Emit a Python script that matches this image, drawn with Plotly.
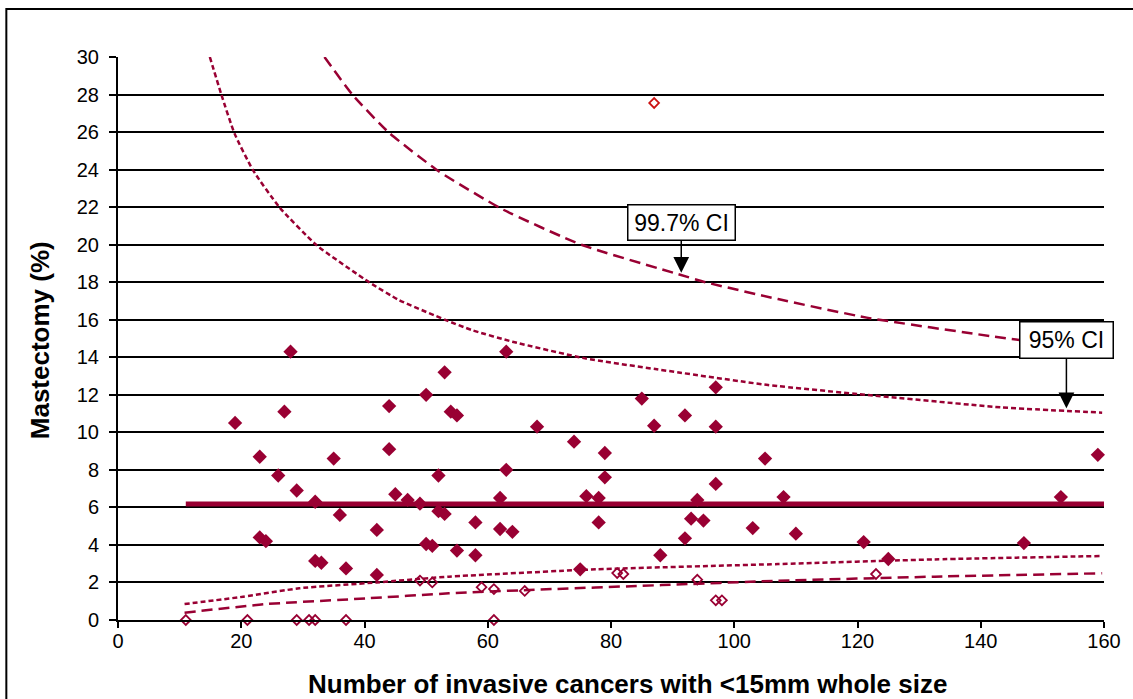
import plotly.graph_objects as go

# ---- data ----
filled_x = [19, 23, 23, 24, 26, 27, 28, 29, 32, 32, 33, 35, 36, 37, 42, 42, 44, 44, 45, 47,
            49, 50, 50, 51, 52, 52, 53, 53, 54, 55, 55, 58, 58, 62, 62, 63, 63, 64, 68, 74,
            75, 76, 78, 78, 79, 79, 85, 87, 88, 92, 92, 93, 94, 95, 97, 97, 97, 103, 105, 108,
            110, 121, 125, 147, 153, 159]
filled_y = [10.5, 8.7, 4.4, 4.2, 7.7, 11.1, 14.3, 6.9, 6.3, 3.15, 3.05, 8.6, 5.6, 2.75, 4.8, 2.4, 11.4, 9.1, 6.7, 6.4,
            6.2, 12.0, 4.05, 3.95, 7.7, 5.8, 5.65, 13.2, 11.1, 10.9, 3.7, 5.2, 3.45, 6.5, 4.85, 14.3, 8.0, 4.7, 10.3, 9.5,
            2.7, 6.6, 6.5, 5.2, 8.9, 7.6, 11.8, 10.35, 3.45, 10.9, 4.35, 5.4, 6.4, 5.3, 12.4, 10.3, 7.25, 4.9, 8.6, 6.55,
            4.6, 4.15, 3.25, 4.1, 6.55, 8.8]

open_x = [11, 21, 29, 31, 32, 37, 49, 51, 59, 61, 61, 66, 81, 82, 94, 97, 98, 123]
open_y = [0, 0, 0, 0, 0, 0, 2.1, 2.0, 1.75, 1.65, 0, 1.55, 2.5, 2.45, 2.15, 1.05, 1.05, 2.45]

outlier_x = [87]
outlier_y = [27.55]

mean_x = [11, 160]
mean_y = [6.18, 6.18]

u95_x = [14.9, 16.8, 18.9, 21.9, 26.2, 32.2, 40.8, 45.6, 53.2, 57.4, 64.0, 75.8, 87.2, 105.5, 121.7, 143.2, 159.7]
u95_y = [30.0, 27.97, 25.93, 23.97, 21.99, 19.98, 17.99, 17.05, 15.98, 15.45, 14.83, 13.94, 13.37, 12.52, 11.99, 11.33, 11.05]

u997_x = [33.5, 38.1, 44.0, 52.1, 62.3, 75.3, 90.9, 95.3, 107.1, 121.7, 142.2, 159.7]
u997_y = [30.0, 27.97, 25.96, 23.9, 21.9, 19.98, 18.43, 18.0, 17.1, 16.1, 15.1, 14.35]

l95_x = [10.8, 20.3, 29.4, 41.9, 53.7, 77.5, 107.1, 132.5, 159.7]
l95_y = [0.85, 1.24, 1.69, 2.0, 2.31, 2.70, 2.98, 3.23, 3.41]

l997_x = [10.8, 24.1, 40.2, 53.7, 66.7, 88.2, 107.1, 132.5, 159.7]
l997_y = [0.39, 0.85, 1.15, 1.42, 1.6, 1.86, 2.09, 2.31, 2.49]

x_ticks = [0, 20, 40, 60, 80, 100, 120, 140, 160]
y_ticks = list(range(0, 31, 2))

# ---- styling ----
RED = "#990033"
FONT = "Liberation Sans, Arial, sans-serif"

fig = go.Figure()

def curve(x, y, dash):
    fig.add_trace(go.Scatter(x=x, y=y, mode="lines",
                             line=dict(color=RED, width=2.5, dash=dash, shape="spline", smoothing=0.5),
                             hoverinfo="skip", showlegend=False))

curve(u95_x, u95_y, "5px,3px")
curve(l95_x, l95_y, "5px,3px")
curve(u997_x, u997_y, "11px,6px")
curve(l997_x, l997_y, "11px,6px")

fig.add_trace(go.Scatter(x=mean_x, y=mean_y, mode="lines",
                         line=dict(color=RED, width=5), showlegend=False))

fig.add_trace(go.Scatter(x=filled_x, y=filled_y, mode="markers", cliponaxis=False,
                         marker=dict(symbol="diamond", size=11, color=RED, line=dict(width=0)),
                         showlegend=False))
fig.add_trace(go.Scatter(x=open_x, y=open_y, mode="markers", cliponaxis=False,
                         marker=dict(symbol="diamond-open", size=7.5, color=RED, line=dict(width=1.8)),
                         showlegend=False))
fig.add_trace(go.Scatter(x=outlier_x, y=outlier_y, mode="markers", cliponaxis=False,
                         marker=dict(symbol="diamond-open", size=7.5, color="#CC1111", line=dict(width=1.8)),
                         showlegend=False))

L, R, T, B = 118, 26, 57, 79
W, H = 1133, 699
pw, ph = W - L - R, H - T - B

fig.update_layout(
    width=W, height=H,
    margin=dict(l=L, r=R, t=T, b=B),
    paper_bgcolor="white", plot_bgcolor="white",
    font=dict(family=FONT, size=20, color="black"),
    showlegend=False,
    xaxis=dict(range=[0, 160], tickvals=x_ticks, showgrid=False, zeroline=False,
               showline=True, linecolor="black", linewidth=2,
               ticks="outside", ticklen=6, tickwidth=2, tickcolor="black",
               tickfont=dict(size=20, family=FONT), ticklabelstandoff=-4),
    yaxis=dict(range=[0, 30], tickvals=y_ticks, showgrid=True, gridcolor="black", gridwidth=2,
               zeroline=False, showline=True, linecolor="black", linewidth=2,
               ticks="outside", ticklen=7, tickwidth=2, tickcolor="black",
               tickfont=dict(size=20, family=FONT), ticklabelstandoff=6),
)

# axis titles
fig.add_annotation(text="<b>Number of invasive cancers with &lt;15mm whole size</b>",
                   xref="paper", yref="paper", x=(629 - L) / pw, y=(H - B - 684) / ph,
                   showarrow=False, font=dict(size=26, family=FONT, color="black"),
                   xanchor="center", yanchor="middle")
fig.add_annotation(text="<b>Mastectomy (%)</b>",
                   xref="paper", yref="paper", x=(40 - L) / pw, y=(H - B - 340) / ph,
                   showarrow=False, textangle=-90, font=dict(size=26, family=FONT, color="black"),
                   xanchor="center", yanchor="middle")

# CI labels with arrows
fig.add_annotation(text="99.7% CI", x=91.4, y=18.5, xref="x", yref="y",
                   ax=0, ay=-50, showarrow=True, arrowhead=2, arrowsize=2.1, arrowwidth=1.5,
                   arrowcolor="black", bgcolor="white", bordercolor="black", borderwidth=1.5,
                   width=104, height=32, borderpad=1,
                   font=dict(size=23, family=FONT, color="black"))
fig.add_annotation(text="95% CI", x=153.9, y=11.28, xref="x", yref="y",
                   ax=0, ay=-68, showarrow=True, arrowhead=2, arrowsize=2.1, arrowwidth=1.5,
                   arrowcolor="black", bgcolor="white", bordercolor="black", borderwidth=1.5,
                   width=90, height=33, borderpad=1,
                   font=dict(size=23, family=FONT, color="black"))

# outer chart border (extends beyond the captured area on right/bottom)
fig.add_shape(type="rect", xref="paper", yref="paper",
              x0=(6 - L) / pw, x1=(W + 20 - L) / pw,
              y0=(H - B - (H + 20)) / ph, y1=(H - B - 9) / ph,
              line=dict(color="black", width=2), layer="below")

fig.write_html("out.html")
